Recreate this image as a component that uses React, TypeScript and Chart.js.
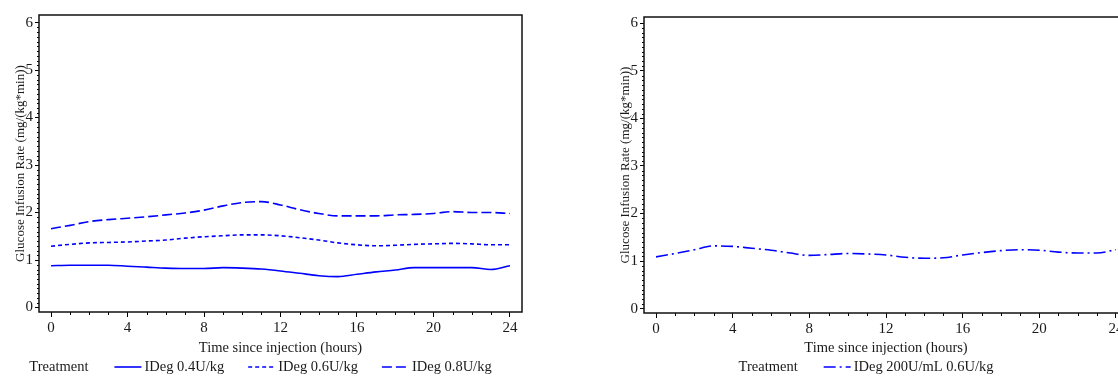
import React, { useEffect, useRef } from "react";
import { Chart, registerables } from "chart.js";

Chart.register(...registerables);

// ---------------- data ----------------
const HOURS = [0, 1, 2, 3, 4, 5, 6, 7, 8, 9, 10, 11, 12, 13, 14, 15, 16, 17, 18, 19, 20, 21, 22, 23, 24];
const GIR_IDEG_04 = [0.88, 0.89, 0.89, 0.89, 0.87, 0.85, 0.83, 0.82, 0.82, 0.84, 0.83, 0.81, 0.77, 0.72, 0.67, 0.65, 0.7, 0.75, 0.79, 0.84, 0.84, 0.84, 0.84, 0.8, 0.88];
const GIR_IDEG_06 = [1.29, 1.33, 1.36, 1.37, 1.38, 1.4, 1.42, 1.46, 1.49, 1.51, 1.53, 1.53, 1.51, 1.47, 1.42, 1.36, 1.32, 1.3, 1.31, 1.33, 1.34, 1.35, 1.34, 1.32, 1.32];
const GIR_IDEG_08 = [1.66, 1.73, 1.81, 1.85, 1.88, 1.91, 1.95, 1.99, 2.05, 2.14, 2.21, 2.23, 2.16, 2.06, 1.98, 1.93, 1.93, 1.93, 1.95, 1.96, 1.98, 2.02, 2.0, 2.0, 1.98];
const GIR_IDEG_200 = [1.09, 1.16, 1.24, 1.32, 1.31, 1.27, 1.23, 1.17, 1.12, 1.14, 1.16, 1.15, 1.13, 1.08, 1.06, 1.07, 1.13, 1.18, 1.22, 1.24, 1.23, 1.19, 1.17, 1.17, 1.24];

const LEFT_LABELS = ["IDeg 0.4U/kg", "IDeg 0.6U/kg", "IDeg 0.8U/kg"];
const RIGHT_LABELS = ["IDeg 200U/mL 0.6U/kg"];
const X_TICKS = [0, 4, 8, 12, 16, 20, 24];
const Y_TICKS = [0, 1, 2, 3, 4, 5, 6];
const X_MINOR = HOURS;
const Y_MINOR_STEP = 0.1;
const X_TITLE = "Time since injection (hours)";
const Y_TITLE = "Glucose Infusion Rate (mg/(kg*min))";
const LEGEND_TITLE = "Treatment";

// ---------------- styling ----------------
const FONT = '"Liberation Serif", "Times New Roman", serif';
const BLUE = "#0000ff";
const TXT = "#1a1a1a";

const decorPlugin = {
  id: "decor",
  afterDraw(chart: any) {
    const { ctx, chartArea: a, scales } = chart;
    const x = scales.x;
    const y = scales.y;
    ctx.save();
    ctx.strokeStyle = "#000";
    ctx.lineWidth = 1;
    ctx.beginPath();
    for (const h of X_MINOR) {
      if (X_TICKS.includes(h)) continue;
      const px = Math.round(x.getPixelForValue(h)) + 0.5;
      ctx.moveTo(px, a.bottom);
      ctx.lineTo(px, a.bottom + 3);
    }
    const yMax = Y_TICKS[Y_TICKS.length - 1];
    for (let i = 1; i * Y_MINOR_STEP <= yMax + 1e-9; i++) {
      if (i % 10 === 0) continue;
      const py = Math.round(y.getPixelForValue(i * Y_MINOR_STEP)) + 0.5;
      ctx.moveTo(a.left - 2, py);
      ctx.lineTo(a.left, py);
    }
    ctx.stroke();

    // frame
    ctx.strokeStyle = "#111";
    ctx.lineWidth = 1.5;
    ctx.strokeRect(a.left, a.top, a.right - a.left, a.bottom - a.top);

    // legend
    ctx.font = "14.5px " + FONT;
    ctx.textBaseline = "middle";
    ctx.fillStyle = TXT;
    const ds = chart.data.datasets;
    const sample = 27;
    const wTitle = ctx.measureText(LEGEND_TITLE).width;
    let total = wTitle + 26;
    ds.forEach((d: any, i: number) => {
      total += sample + 3 + ctx.measureText(d.label).width;
      if (i < ds.length - 1) total += 24;
    });
    let lx = (a.left + a.right) / 2 - 20 - total / 2;
    const ly = 367;
    ctx.textAlign = "left";
    ctx.fillText(LEGEND_TITLE, lx, ly);
    lx += wTitle + 26;
    ds.forEach((d: any) => {
      ctx.strokeStyle = d.borderColor;
      ctx.lineWidth = d.borderWidth;
      ctx.setLineDash(d.borderDash || []);
      ctx.beginPath();
      ctx.moveTo(lx, ly);
      ctx.lineTo(lx + sample, ly);
      ctx.stroke();
      ctx.setLineDash([]);
      lx += sample + 3;
      ctx.fillText(d.label, lx, ly);
      lx += ctx.measureText(d.label).width + 24;
    });
    ctx.restore();
  },
};

type PanelProps = {
  left: number;
  width: number;
  padLeft: number;
  padTop: number;
  padRight: number;
  xHeight: number;
  yMin: number;
  yMax: number;
  datasets: any[];
};

function Panel(p: PanelProps) {
  const ref = useRef<HTMLCanvasElement | null>(null);
  useEffect(() => {
    if (!ref.current) return;
    const chart = new Chart(ref.current, {
      type: "line",
      data: { labels: HOURS, datasets: p.datasets },
      options: {
        responsive: false,
        animation: false,
        devicePixelRatio: 1,
        layout: { padding: { left: p.padLeft, top: p.padTop, right: p.padRight, bottom: 0 } },
        plugins: { legend: { display: false }, tooltip: { enabled: false } },
        elements: { point: { radius: 0 } },
        scales: {
          x: {
            type: "linear",
            min: -0.63,
            max: 24.63,
            afterBuildTicks: (s: any) => {
              s.ticks = X_TICKS.map((v) => ({ value: v }));
            },
            afterFit: (s: any) => {
              s.height = p.xHeight;
            },
            border: { display: false },
            grid: { drawOnChartArea: false, drawTicks: true, tickLength: 5, color: "#000" },
            ticks: { color: TXT, font: { family: FONT, size: 15 }, padding: 2, maxRotation: 0 },
            title: {
              display: true,
              text: X_TITLE,
              color: TXT,
              font: { family: FONT, size: 14.5 },
              padding: { top: 0, bottom: 18.8 },
            },
          },
          y: {
            type: "linear",
            min: p.yMin,
            max: p.yMax,
            afterBuildTicks: (s: any) => {
              s.ticks = Y_TICKS.map((v) => ({ value: v }));
            },
            afterFit: (s: any) => {
              s.width = 39;
            },
            border: { display: false },
            grid: { drawOnChartArea: false, drawTicks: true, tickLength: 4, color: "#000" },
            ticks: { color: TXT, font: { family: FONT, size: 15 }, padding: 2 },
            title: {
              display: true,
              text: Y_TITLE,
              color: TXT,
              font: { family: FONT, size: 13 },
              padding: { top: 12.5, bottom: 0 },
            },
          },
        },
      },
      plugins: [decorPlugin],
    } as any);
    return () => chart.destroy();
  }, []);
  return (
    <canvas
      ref={ref}
      width={p.width}
      height={376}
      style={{ position: "absolute", left: p.left, top: 0, width: p.width, height: 376, display: "block" }}
    />
  );
}

function line(label: string, data: number[], dash: number[]) {
  return {
    label,
    data: HOURS.map((h, i) => ({ x: h, y: data[i] })),
    borderColor: BLUE,
    backgroundColor: BLUE,
    borderWidth: 1.6,
    borderDash: dash,
    fill: false,
    cubicInterpolationMode: "monotone",
    pointRadius: 0,
  };
}

export default function App() {
  const leftSets = [
    line(LEFT_LABELS[0], GIR_IDEG_04, []),
    line(LEFT_LABELS[1], GIR_IDEG_06, [4, 3]),
    line(LEFT_LABELS[2], GIR_IDEG_08, [10, 4]),
  ];
  const rightSets = [line(RIGHT_LABELS[0], GIR_IDEG_200, [12, 4, 2, 4])];
  return (
    <div
      style={{
        position: "absolute",
        left: 0,
        top: 0,
        width: 1118,
        height: 376,
        overflow: "hidden",
        background: "#fff",
      }}
    >
      <Panel left={0} width={560} padLeft={0} padTop={15} padRight={38} xHeight={64} yMin={-0.095} yMax={6.16} datasets={leftSets} />
      <Panel left={560} width={620} padLeft={45} padTop={17} padRight={52} xHeight={63} yMin={-0.09} yMax={6.13} datasets={rightSets} />
    </div>
  );
}
